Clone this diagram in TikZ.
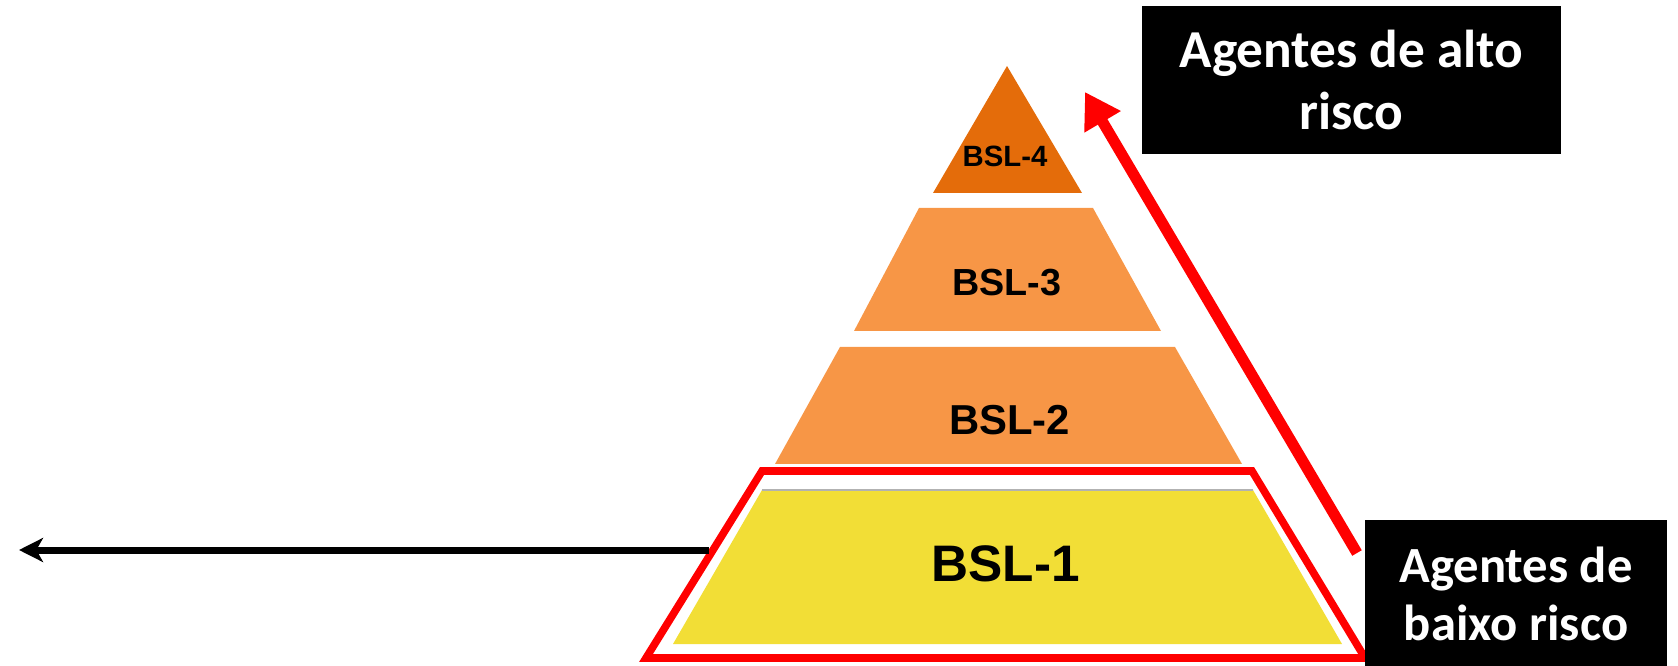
\documentclass[tikz,border=0pt]{standalone}
\usepackage{fontspec}
\setmainfont{Carlito}
\newfontfamily\labelfont{Liberation Sans}
\usetikzlibrary{arrows.meta}
\definecolor{tierdark}{HTML}{E46C0A}
\definecolor{tierorange}{HTML}{F79646}
\definecolor{tieryellow}{HTML}{F2DE36}
\definecolor{alertred}{HTML}{FF0000}
\begin{document}
\begin{tikzpicture}[x=0.75pt,y=-0.75pt,
  tierlabel/.style={font=\labelfont\bfseries\fontsize{#1}{#1}\selectfont, text=black, inner sep=0pt},
  riskbox/.style={fill=black, text=white, align=center, inner sep=0pt},
  levelarrow/.style={alertred, line width=8.25pt, -{Triangle[length=26pt,width=30pt]}},
  scalearrow/.style={black, line width=5.25pt, -{Stealth[length=18pt,width=18pt,inset=5pt]}}]
\useasboundingbox (0,0) rectangle (1678,666);

% pyramid tiers
\fill[tierdark] (1007,66) -- (1082,193) -- (933,193) -- cycle;
\fill[tierorange] (919,208) -- (1093,208) -- (1161,331) -- (854,331) -- cycle;
\fill[tierorange] (840,347) -- (1175,347) -- (1242,464) -- (775,464) -- cycle;
\fill[tieryellow] (762,490) -- (1253,490) -- (1342,644) -- (673,644) -- cycle;
\draw[black!30, line width=0.9pt] (762,490) -- (1253,490);

% tier labels
\node[tierlabel=22] (bsl4) at (1005,156.5) {BSL-4};
\node[tierlabel=28.3] (bsl3) at (1007,282.5) {BSL-3};
\node[tierlabel=31.4] (bsl2) at (1009.5,420) {BSL-2};
\node[tierlabel=38.5] (bsl1) at (1005.5,563.5) {BSL-1};

% highlight frame around the lowest tier
\draw[alertred, line width=5.7pt, line join=miter] (762,471) -- (1252,471) -- (1365,658) -- (646,658) -- cycle;

% captions
\node[riskbox, minimum width=314.25pt, minimum height=111pt,
      font=\bfseries\fontsize{40}{47}\selectfont] (high) at (1351.5,80) {Agentes de alto\\risco};
\node[riskbox, minimum width=226.5pt, minimum height=111pt,
      font=\bfseries\fontsize{38}{43.5}\selectfont] (low) at (1516,594) {Agentes de\\baixo risco};

% arrows
\coordinate (lowend) at (1357,553);
\coordinate (highend) at (1085,92);
\draw[levelarrow] (lowend) -- (highend);

\coordinate (frameW) at (709,550);
\coordinate (farleft) at (19,550);
\draw[scalearrow] (frameW) -- (farleft);
\end{tikzpicture}
\end{document}
